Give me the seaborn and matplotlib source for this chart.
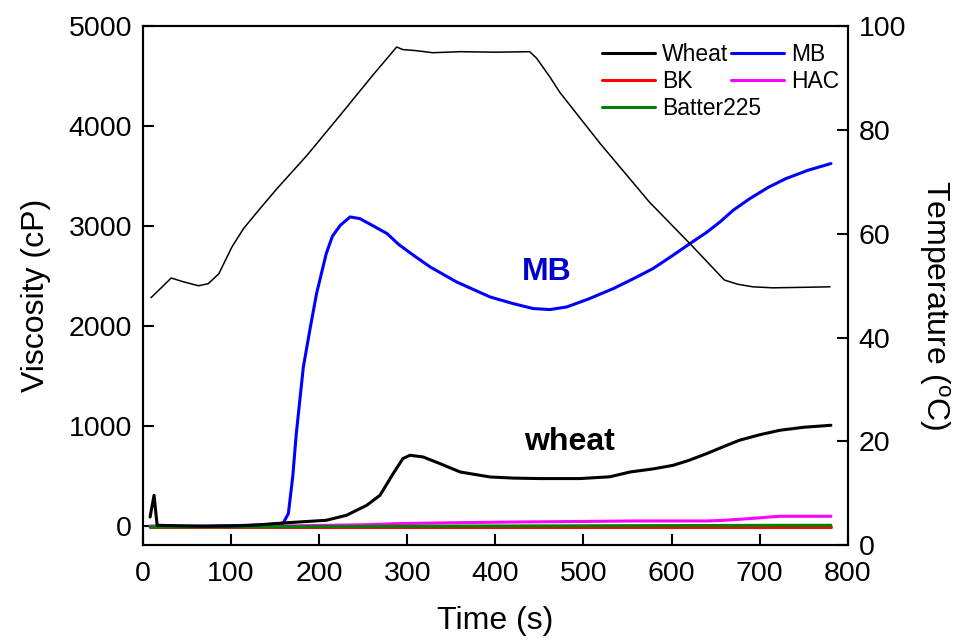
import matplotlib
matplotlib.use("Agg")
import matplotlib.pyplot as plt
import seaborn as sns
import numpy as np
from matplotlib.lines import Line2D

# ---------------- data ----------------
wheat_t = [8, 12.5, 16, 40, 72, 100, 125, 159, 190, 208, 231, 254, 269, 284, 295, 303,
           318, 337, 360, 394, 420, 450, 496, 530, 553, 580, 602, 620, 640, 660, 677,
           700, 723, 750, 781]
wheat_v = [93, 310, 10, 5, 0, 3, 10, 33, 50, 60, 110, 210, 310, 527, 677, 710,
           693, 627, 543, 493, 482, 477, 477, 495, 543, 575, 610, 660, 727, 800, 860,
           915, 960, 990, 1010]

mb_t = [8, 60, 120, 150, 159, 165, 170, 174, 182, 190, 197, 208, 215, 224, 235, 246,
        260, 277, 290, 307, 326, 356, 394, 420, 443, 462, 481, 505, 534, 560, 579, 600,
        621, 640, 655, 670, 689, 710, 730, 755, 781]
mb_v = [0, 0, 10, 20, 30, 127, 500, 927, 1593, 1993, 2327, 2727, 2900, 3010, 3093, 3077,
        3010, 2927, 2820, 2710, 2593, 2443, 2293, 2227, 2177, 2167, 2193, 2270, 2377, 2490,
        2577, 2700, 2827, 2940, 3043, 3160, 3277, 3390, 3477, 3560, 3627]

bk_t = [8, 200, 400, 600, 781]
bk_v = [-12, -12, -12, -12, -12]

hac_t = [8, 100, 178, 250, 292, 350, 425, 500, 556, 600, 640, 660, 689, 710, 723, 781]
hac_v = [0, 0, 5, 15, 27, 35, 43, 48, 53, 53, 53, 60, 77, 92, 100, 100]

batter_t = [8, 100, 200, 300, 400, 500, 600, 700, 781]
batter_v = [-8, -6, -3, 0, 3, 5, 7, 9, 10]

temp_t = [9, 20, 32, 45, 63, 74, 86, 101, 114, 133, 152, 186, 224, 261, 288, 295, 310,
          329, 360, 400, 439, 447, 462, 473, 519, 575, 621, 660, 675, 692, 715, 750, 780]
temp_v = [47.7, 49.5, 51.5, 50.8, 50.0, 50.4, 52.3, 57.5, 61.0, 64.9, 68.7, 75.1, 82.9,
          90.6, 96.0, 95.5, 95.3, 94.9, 95.1, 95.0, 95.1, 93.8, 90.2, 87.3, 77.4, 66.1,
          58.1, 51.1, 50.3, 49.8, 49.6, 49.7, 49.8]

legend_col1 = ["Wheat", "BK", "Batter225"]
legend_col2 = ["MB", "HAC"]
series_colors = {"Wheat": "#000000", "MB": "#0000FF", "BK": "#FF0000",
                 "HAC": "#FF00FF", "Batter225": "#008000"}

x_ticks = [0, 100, 200, 300, 400, 500, 600, 700, 800]
y_ticks = [0, 1000, 2000, 3000, 4000, 5000]
t_ticks = [0, 20, 40, 60, 80, 100]

# ---------------- style ----------------
sns.set_style("ticks")
plt.rcParams["font.family"] = ["Liberation Sans", "DejaVu Sans"]
plt.rcParams["mathtext.fontset"] = "custom"
plt.rcParams["mathtext.rm"] = "Liberation Sans"
plt.rcParams["mathtext.it"] = "Liberation Sans"
plt.rcParams["text.color"] = "black"
plt.rcParams["axes.labelcolor"] = "black"
plt.rcParams["xtick.color"] = "black"
plt.rcParams["ytick.color"] = "black"

fig = plt.figure(figsize=(9.6, 6.4), dpi=100)
ax = fig.add_axes([0.149, 0.148, 0.883 - 0.149, 0.959 - 0.148])
ax2 = ax.twinx()

lw = 2.2
sns.lineplot(x=mb_t, y=mb_v, ax=ax, color=series_colors["MB"], lw=lw, zorder=2)
sns.lineplot(x=bk_t, y=bk_v, ax=ax, color=series_colors["BK"], lw=lw, zorder=2)
sns.lineplot(x=hac_t, y=hac_v, ax=ax, color=series_colors["HAC"], lw=lw, zorder=2)
sns.lineplot(x=batter_t, y=batter_v, ax=ax, color=series_colors["Batter225"], lw=lw, zorder=3)
sns.lineplot(x=wheat_t, y=wheat_v, ax=ax, color=series_colors["Wheat"], lw=lw, zorder=4)

sns.lineplot(x=temp_t, y=temp_v, ax=ax2, color="black", lw=1.1)

ax.set_xlim(0, 800)
ax.set_ylim(-190, 5000)
ax2.set_ylim(0, 100)
ax.set_xticks(x_ticks)
ax.set_yticks(y_ticks)
ax2.set_yticks(t_ticks)

for a in (ax, ax2):
    for s in a.spines.values():
        s.set_linewidth(1.5)
        s.set_color("black")
        s.set_visible(True)

ax.tick_params(axis="x", direction="in", length=8, width=1.5, labelsize=20.5, pad=11,
               colors="black", top=False)
ax.tick_params(axis="y", direction="in", length=8, width=1.5, labelsize=20.5, pad=8,
               colors="black", right=False)
ax2.tick_params(axis="y", direction="in", length=8, width=1.5, labelsize=20.5, pad=8,
                colors="black")

ax.set_xlabel("Time (s)", fontsize=23, va="top")
ax.xaxis.set_label_coords(0.5, -0.117)
ax.set_ylabel("Viscosity (cP)", fontsize=23, va="bottom")
ax.yaxis.set_label_coords(-0.130, 0.482)
ax2.set_ylabel("Temperature ($^{o}$C)", fontsize=23, rotation=270, va="bottom")
ax2.yaxis.set_label_coords(1.099, 0.462)

ax.text(458, 2460, "MB", color="#0000CC", fontsize=23, fontweight="bold",
        ha="center", va="baseline")
ax.text(484, 760, "wheat", color="black", fontsize=23, fontweight="bold",
        ha="center", va="baseline")

leg_kw = dict(loc="upper left", frameon=False, fontsize=16.5, handlelength=2.3,
              handletextpad=0.3, labelspacing=0.17, borderpad=0, borderaxespad=0)
h1 = [Line2D([], [], color=series_colors[n], lw=lw) for n in legend_col1]
h2 = [Line2D([], [], color=series_colors[n], lw=lw) for n in legend_col2]
leg1 = ax2.legend(h1, legend_col1, bbox_to_anchor=(0.652, 0.968), **leg_kw)
ax2.add_artist(leg1)
leg2 = ax2.legend(h2, legend_col2, bbox_to_anchor=(0.835, 0.968), **leg_kw)

fig.savefig("out.png", dpi=100)
